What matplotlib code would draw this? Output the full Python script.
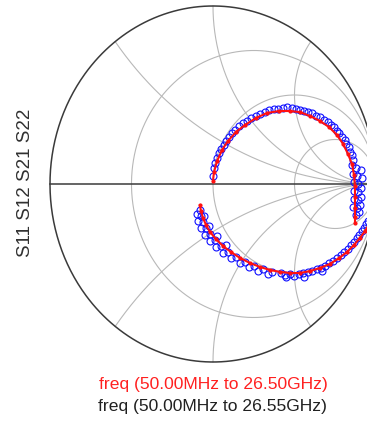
import numpy as np
import matplotlib
matplotlib.use("Agg")
import matplotlib.pyplot as plt

plt.rcParams['font.family'] = ['Liberation Sans', 'DejaVu Sans']

# ============================================================
# DATA  (reflection coefficient, real / imag, read off the chart)
# ============================================================

# measured trace (blue open circles) - upper arc
meas_up_re = [0.000, 0.006, 0.025, 0.049, 0.080, 0.117, 0.160, 0.209, 0.264, 0.319,
              0.374, 0.429, 0.485, 0.534, 0.583, 0.607, 0.632, 0.656, 0.681, 0.706,
              0.724, 0.742, 0.761, 0.773, 0.791, 0.810, 0.816, 0.834, 0.840, 0.853,
              0.859, 0.877, 0.883, 0.890, 0.890, 0.890, 0.883, 0.877, 0.908, 0.914,
              0.908, 0.908, 0.902, 0.896, 0.853, 0.859, 0.865, 0.865, 0.865, 0.859,
              0.012, 0.037, 0.067, 0.098, 0.135, 0.184, 0.233, 0.288, 0.344, 0.399,
              0.454, 0.509, 0.558]
meas_up_im = [0.045, 0.090, 0.146, 0.197, 0.242, 0.287, 0.326, 0.354, 0.382, 0.404,
              0.421, 0.427, 0.427, 0.416, 0.404, 0.399, 0.382, 0.376, 0.360, 0.348,
              0.331, 0.320, 0.298, 0.287, 0.264, 0.247, 0.225, 0.208, 0.180, 0.163,
              0.135, 0.090, 0.045, 0.000, -0.045, -0.090, -0.135, -0.174, 0.079, 0.034,
              -0.022, -0.073, -0.118, -0.157, 0.107, 0.056, 0.011, -0.039, -0.084, -0.129,
              0.118, 0.174, 0.219, 0.264, 0.303, 0.343, 0.371, 0.393, 0.416, 0.421,
              0.433, 0.421, 0.410]

# measured trace - lower arc
meas_lo_re = [-0.080, -0.074, -0.061, -0.043, -0.018, 0.012, 0.049, 0.092, 0.141, 0.196,
              0.252, 0.307, 0.362, 0.417, 0.472, 0.528, 0.583, 0.638, 0.687, 0.736,
              0.785, 0.828, 0.865, 0.896, 0.926, 0.951, -0.098, -0.092, -0.074, -0.049,
              -0.018, 0.018, 0.061, 0.110, 0.166, 0.221, 0.276, 0.337, 0.448, 0.558,
              0.669, -0.055, -0.025, 0.025, 0.080, 0.442, 0.497, 0.552, 0.607, 0.663,
              0.712, 0.761, 0.804, 0.847, 0.883, 0.914, 0.939]
meas_lo_im = [-0.146, -0.180, -0.213, -0.247, -0.281, -0.315, -0.348, -0.382, -0.410, -0.438,
              -0.461, -0.478, -0.494, -0.500, -0.506, -0.506, -0.494, -0.478, -0.461, -0.433,
              -0.399, -0.365, -0.326, -0.287, -0.247, -0.208, -0.169, -0.208, -0.247, -0.287,
              -0.320, -0.354, -0.388, -0.416, -0.444, -0.466, -0.489, -0.506, -0.522, -0.522,
              -0.489, -0.180, -0.236, -0.292, -0.343, -0.511, -0.517, -0.500, -0.489, -0.472,
              -0.444, -0.416, -0.382, -0.343, -0.303, -0.264, -0.225]

# model trace (red) - upper arc
model_up_re = [0.000, 0.006, 0.025, 0.055, 0.092, 0.141, 0.196, 0.264, 0.331, 0.405,
               0.472, 0.534, 0.595, 0.656, 0.712, 0.761, 0.798, 0.828, 0.853, 0.865,
               0.871, 0.871, 0.871, 0.871, 0.871]
model_up_im = [0.017, 0.067, 0.129, 0.191, 0.242, 0.292, 0.331, 0.371, 0.399, 0.410,
               0.410, 0.404, 0.382, 0.354, 0.320, 0.275, 0.225, 0.169, 0.112, 0.051,
               -0.011, -0.073, -0.135, -0.185, -0.219]

# model trace - lower arc
model_lo_re = [-0.080, -0.074, -0.061, -0.043, -0.018, 0.018, 0.061, 0.110, 0.166, 0.227,
               0.288, 0.350, 0.411, 0.472, 0.534, 0.595, 0.656, 0.718, 0.773, 0.822,
               0.865, 0.902, 0.933, 0.963]
model_lo_im = [-0.118, -0.152, -0.191, -0.230, -0.270, -0.309, -0.348, -0.382, -0.416, -0.444,
               -0.466, -0.483, -0.494, -0.500, -0.500, -0.489, -0.472, -0.449, -0.416, -0.382,
               -0.343, -0.303, -0.264, -0.219]

# smith grid values
r_values = [1/3, 1.0, 3.0]
x_values = [0.5, 1.0, 2.0, -0.5, -1.0, -2.0]

trace_label = "S11 S12 S21 S22"
freq_labels = ["freq (50.00MHz to 26.50GHz)", "freq (50.00MHz to 26.55GHz)"]

# ============================================================
# PLOT
# ============================================================

fig = plt.figure(figsize=(3.67, 4.21), dpi=100)
ax = fig.add_axes([0, 0, 1, 1])
ax.set_xlim(-1.3067, 0.9448)
ax.set_ylim(-1.3315, 1.0337)
ax.axis('off')

grid_col = '#b8b8b8'
t = np.tan(np.linspace(-np.pi / 2 + 1e-3, np.pi / 2 - 1e-3, 800))
tp = np.tan(np.linspace(0, np.pi / 2 - 1e-3, 600))

# constant resistance circles
for r in r_values:
    z = r + 1j * t
    g = (z - 1) / (z + 1)
    ax.plot(g.real, g.imag, color=grid_col, lw=0.8, zorder=1)

# constant reactance arcs
for x in x_values:
    z = tp + 1j * x
    g = (z - 1) / (z + 1)
    ax.plot(g.real, g.imag, color=grid_col, lw=0.8, zorder=1)

# outer circle + real axis
th = np.linspace(0, 2 * np.pi, 600)
ax.plot(np.cos(th), np.sin(th), color='#3a3a3a', lw=1.1, zorder=2)
ax.plot([-1, 1], [0, 0], color='#3a3a3a', lw=1.1, zorder=2)

# traces
for re, im in [(meas_up_re, meas_up_im), (meas_lo_re, meas_lo_im)]:
    ax.plot(re, im, 'o', ms=5.0, mfc='none', mec='#1010ff', mew=0.8, zorder=3)
for re, im in [(model_up_re, model_up_im), (model_lo_re, model_lo_im)]:
    ax.plot(re, im, '-', color='#ff1010', lw=1.5, marker='o', ms=2.0, zorder=4)

fig.text(26 / 367, 1 - 183 / 421, trace_label, rotation=90, fontsize=13.5,
         color='#303030', ha='center', va='center')
fig.text(213 / 367, 1 - 385 / 421, freq_labels[0], fontsize=12.6,
         color='#ff2020', ha='center', va='center')
fig.text(213 / 367, 1 - 406 / 421, freq_labels[1], fontsize=12.6,
         color='#202020', ha='center', va='center')

plt.savefig('out.png', dpi=100)
